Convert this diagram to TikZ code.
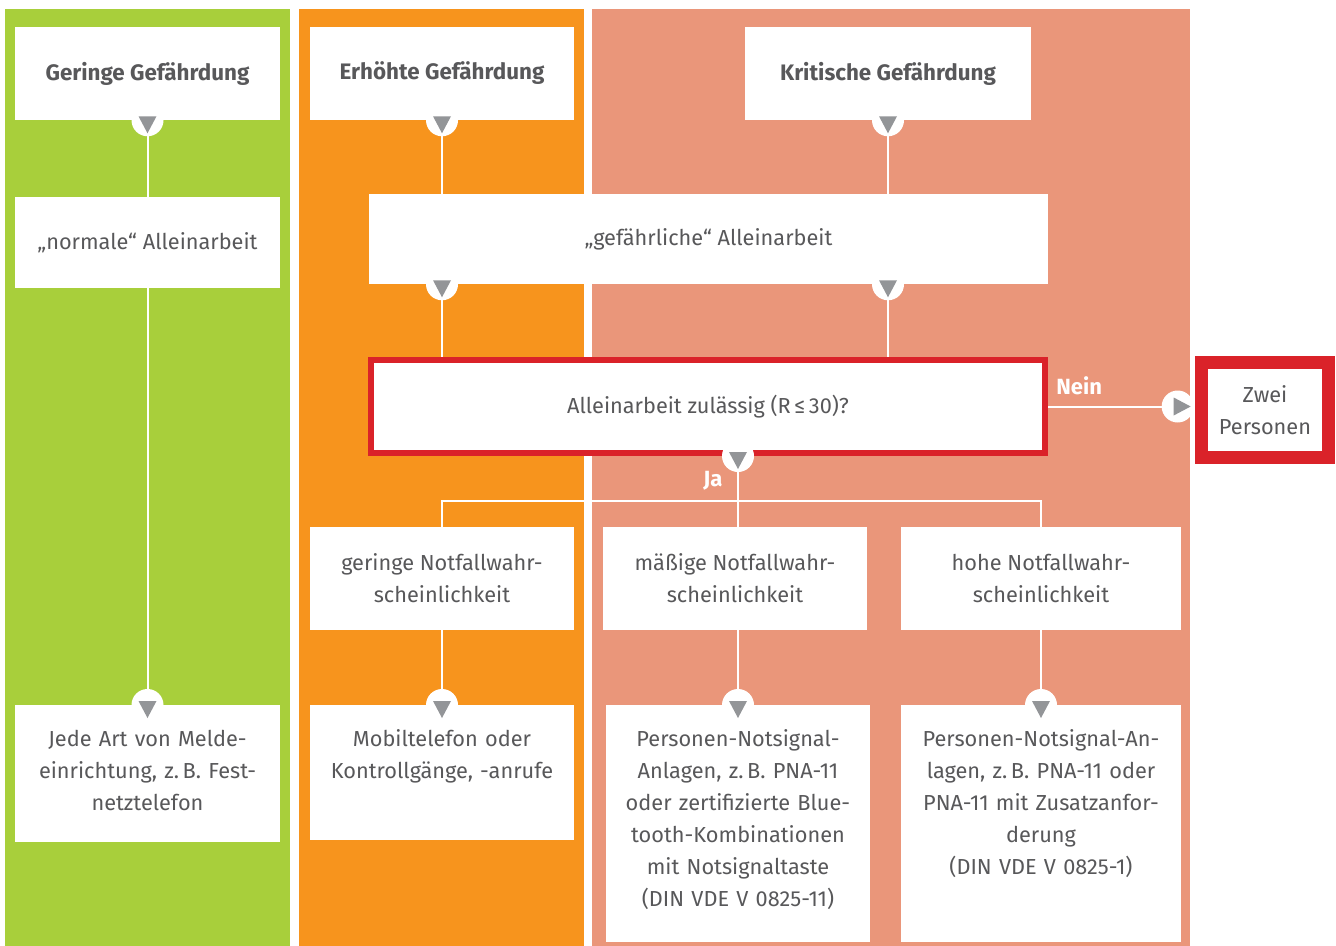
\documentclass[tikz,border=0pt]{standalone}
\usepackage{fontspec}
\setmainfont{Fira Sans}
\usetikzlibrary{backgrounds}
\definecolor{lowgreen}{RGB}{168,207,59}
\definecolor{midorange}{RGB}{247,148,29}
\definecolor{highsalmon}{RGB}{234,150,122}
\definecolor{alarmred}{RGB}{218,34,41}
\definecolor{txtgray}{RGB}{88,88,90}
\definecolor{tipgray}{RGB}{147,149,152}
\tikzset{
  pics/downmark/.style={code={
    \fill[white] (0,0) circle[radius=16];
    \fill[tipgray] (-9,-4) -- (9,-4) -- (0,13) -- cycle;}},
  pics/rightmark/.style={code={
    \fill[white] (0,0) circle[radius=16];
    \fill[tipgray] (-4,-9) -- (-4,9) -- (13,0) -- cycle;}}
}
\begin{document}
\begin{tikzpicture}[x=0.75pt,y=-0.75pt,
    box/.style={fill=white, inner sep=0pt, align=center, text=txtgray, font=\fontsize{16.3}{24}\selectfont},
    head/.style={box, font=\bfseries\fontsize{16.8}{24}\selectfont},
    low/.style={box, anchor=north, text height=31pt},
    wire/.style={white, line width=1.5pt},
    flag/.style={text=white, inner sep=0pt, font=\bfseries\fontsize{16.5}{18}\selectfont}]
  \useasboundingbox (0,0) rectangle (1336,946);
  % --- row 1: hazard levels ---
  \node[head, minimum width=198.75pt, minimum height=69.75pt] (gering) at (147.5,73.5) {Geringe Gefährdung};
  \node[head, minimum width=198pt, minimum height=69.75pt] (erhoeht) at (442,73.5) {Erhöhte Gefährdung};
  \node[head, minimum width=214.5pt, minimum height=69.75pt] (kritisch) at (888,73.5) {Kritische Gefährdung};
  % --- row 2: kind of lone working ---
  \node[box, minimum width=198.75pt, minimum height=68.25pt] (normal) at (147.5,242.5) {„normale“ Alleinarbeit};
  \node[box, minimum width=509.25pt, minimum height=67.5pt] (gefahr) at (708.5,239) {„gefährliche“ Alleinarbeit};
  % --- decision ---
  \node[box, draw=alarmred, line width=4.5pt, minimum width=505.5pt, minimum height=69.75pt] (frage) at (708,406.5) {Alleinarbeit zulässig (R\,≤\,30)?};
  \node[box, draw=alarmred, line width=9.75pt, minimum width=95.25pt, minimum height=71.25pt] (zwei) at (1265,410) {Zwei\\Personen};
  % --- emergency probability ---
  \node[box, minimum width=198pt, minimum height=77.25pt] (nfgering) at (442,578.5) {geringe Notfallwahr-\\scheinlichkeit};
  \node[box, minimum width=198pt, minimum height=77.25pt] (nfmaessig) at (735,578.5) {mäßige Notfallwahr-\\scheinlichkeit};
  \node[box, minimum width=210pt, minimum height=77.25pt] (nfhoch) at (1041,578.5) {hohe Notfallwahr-\\scheinlichkeit};
  % --- measures ---
  \node[low, text width=194pt, minimum width=198.75pt, text depth=71.75pt] (melde) at (147.5,705) {Jede Art von Melde-\\einrichtung, z.\,B. Fest-\\netztelefon};
  \node[low, text width=194pt, minimum width=198pt, text depth=70.25pt] (mobil) at (442,705) {Mobiltelefon oder\\Kontrollgänge, -anrufe};
  \node[low, text width=194pt, minimum width=198pt, text depth=146.75pt] (pnaeins) at (738,705) {Personen-Notsignal-\\Anlagen, z.\,B. PNA-11\\oder zertifizierte Blue-\\tooth-Kombinationen\\mit Notsignaltaste\\(DIN VDE V 0825-11)};
  \node[low, text width=206pt, minimum width=210pt, text depth=146.75pt] (pnazwei) at (1041,705) {Personen-Notsignal-An-\\lagen, z.\,B. PNA-11 oder\\PNA-11 mit Zusatzanfor-\\derung\\(DIN VDE V 0825-1)};
  % split point above the three probability boxes
  \path (pnaeins.north |- nfmaessig.north) ++(0,-26) coordinate (split);
  \coordinate (nein) at ([xshift=-13pt]frage.east -| zwei.west);
  \begin{scope}[on background layer]
    % colour columns
    \fill[lowgreen] (5,9) rectangle (290,946);
    \fill[midorange] (299,9) rectangle (584,946);
    \fill[highsalmon] (592,9) rectangle (1190,946);
    % connectors
    \draw[wire] (gering.south) -- (normal.north);
    \draw[wire] (normal.south) -- (melde.north);
    \draw[wire] (erhoeht.south) -- (erhoeht.south |- gefahr.north);
    \draw[wire] (kritisch.south) -- (kritisch.south |- gefahr.north);
    \draw[wire] (erhoeht.south |- gefahr.south) -- (erhoeht.south |- frage.north);
    \draw[wire] (kritisch.south |- gefahr.south) -- (kritisch.south |- frage.north);
    \draw[wire] (frage.east) -- node[flag, pos=0.24, above=8pt] (neinlabel) {Nein} (nein);
    \draw[wire] (split |- frage.south) -- node[flag, pos=0.56, left=11pt] (jalabel) {Ja} (split);
    \draw[wire] (nfgering.north) |- (split) -| (nfhoch.north);
    \draw[wire] (split) -- (split |- nfmaessig.north);
    \draw[wire] (nfgering.south) -- (mobil.north);
    \draw[wire] (split |- nfmaessig.south) -- (pnaeins.north);
    \draw[wire] (nfhoch.south) -- (pnazwei.north);
  \end{scope}
  % arrow marks
  \pic at (gering.south) {downmark};
  \pic at (erhoeht.south) {downmark};
  \pic at (kritisch.south) {downmark};
  \pic at (erhoeht.south |- gefahr.south) {downmark};
  \pic at (kritisch.south |- gefahr.south) {downmark};
  \pic at (split |- frage.south) {downmark};
  \pic at (melde.north) {downmark};
  \pic at (mobil.north) {downmark};
  \pic at (pnaeins.north) {downmark};
  \pic at (pnazwei.north) {downmark};
  \pic at (nein) {rightmark};
\end{tikzpicture}
\end{document}
